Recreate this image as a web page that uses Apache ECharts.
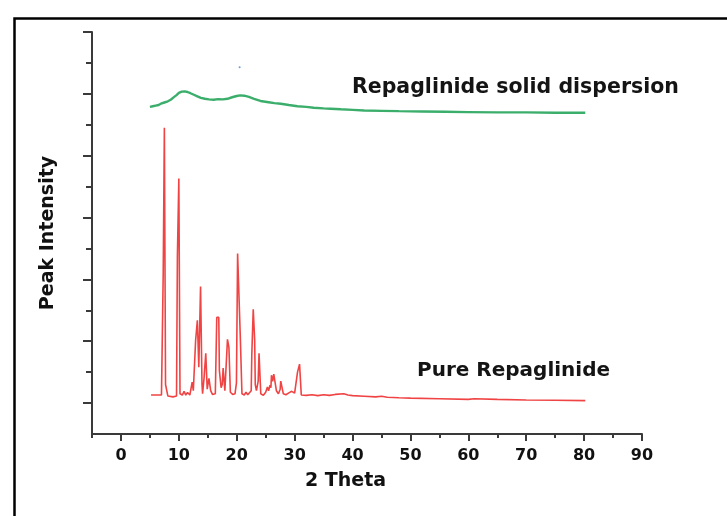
<!DOCTYPE html>
<html lang="en">
<head>
    <meta charset="UTF-8">
    <title>XRD Repaglinide</title>
    <script src="https://cdn.jsdelivr.net/npm/echarts@6/dist/echarts.min.js"></script>
    <style>
        html, body { margin: 0; padding: 0; background: #fff; }
        #main { width: 727px; height: 516px; }
    </style>
</head>
<body>
<div id="main"></div>
<script>
    // 2 theta / intensity pairs
    var pureRepaglinide = [
        [5.2,126],[6.0,126],[7.0,126],[7.25,128],[7.3,519],[7.45,519],[7.5,990],[7.62,990],[7.7,160],[7.9,155],
        [8.1,123],[9.0,120],[9.6,123],[9.75,574],[9.95,574],[10.0,826],[10.1,826],[10.2,130],[10.6,126],[10.9,138],
        [11.2,126],[11.5,134],[11.9,126],[12.3,168],[12.5,140],[12.8,140],[12.9,303],[13.1,303],[13.2,368],[13.35,368],
        [13.45,216],[13.6,216],[13.75,477],[13.9,477],[14.0,160],[14.1,130],[14.35,180],[14.5,180],[14.65,261],[14.8,261],
        [14.9,145],[15.0,150],[15.2,180],[15.35,180],[15.5,140],[15.8,128],[16.3,130],[16.55,377],[16.9,377],[17.0,206],
        [17.15,206],[17.3,150],[17.5,160],[17.65,213],[17.85,213],[17.95,140],[18.2,140],[18.4,306],[18.55,306],[18.65,280],
        [18.8,280],[18.9,135],[19.3,128],[19.7,130],[19.95,165],[20.1,165],[20.15,584],[20.45,584],[20.6,323],[20.75,323],
        [20.9,130],[21.3,126],[21.6,135],[21.9,127],[22.2,132],[22.5,140],[22.6,255],[22.75,255],[22.85,403],[23.0,403],
        [23.1,303],[23.2,160],[23.4,140],[23.7,170],[23.85,261],[24.0,261],[24.15,130],[24.6,125],[25.0,135],[25.3,152],
        [25.5,140],[25.75,158],[25.9,150],[26.0,190],[26.2,170],[26.4,194],[26.55,194],[26.7,190],[26.85,140],[27.2,130],
        [27.5,145],[27.6,171],[27.9,171],[28.05,130],[28.5,127],[29.0,133],[29.5,138],[30.0,132],[30.3,135],[30.5,200],
        [30.7,200],[30.85,226],[31.0,226],[31.15,126],[32,125],[33,127],[34,124],[35,127],[36,125],[37,128],
        [38.5,130],[38.8,136],[39.2,126],[40,124],[42,122],[44,120],[45,122],[46,119],[48,117],[50,116],
        [55,114],[60,112],[61,114],[65,112],[70,110],[75,109],[80.2,108]
    ];
    var solidDispersion = [
        [5.0,1058],[5.5,1060],[6.0,1062],[6.5,1064],[6.9,1068],[7.5,1072],[8.1,1076],[8.6,1081],[9.2,1090],[9.6,1096],
        [10.0,1103],[10.5,1107],[11.0,1108],[11.5,1106],[12.0,1102],[12.6,1097],[13.2,1092],[13.8,1087],[14.5,1084],[15.2,1082],
        [16.0,1081],[16.8,1083],[17.6,1082],[18.4,1084],[19.2,1089],[20.0,1093],[20.6,1095],[21.3,1094],[22.1,1090],[23.0,1084],
        [24.1,1077],[25.5,1073],[26.5,1070],[27.6,1068],[29,1064],[30.5,1060],[32,1058],[33.3,1055],[35,1053],[36.2,1052],
        [38,1050],[40,1048],[42,1046],[45,1045],[48,1044],[52,1043],[56,1042],[60,1041],[65,1040],[70,1040],
        [75,1039],[80.2,1039]
    ];
    var strayDot = [[20.5,1186]];

    var xMajorTicks = [0,10,20,30,40,50,60,70,80,90];
    var xMinorTicks = [-5,5,15,25,35,45,55,65,75,85];
    var yMajorTicks = [100,300,500,700,900,1100,1300];
    var yMinorTicks = [200,400,600,800,1000,1200];

    var axisColor = '#3a3a3a';
    var chart = echarts.init(document.getElementById('main'));

    chart.setOption({
        animation: false,
        backgroundColor: '#fff',
        grid: { left: 92, right: 85, top: 32, bottom: 82 },
        xAxis: [{
            type: 'value', position: 'bottom', min: -5, max: 90, interval: 5,
            name: '2 Theta', nameLocation: 'middle', nameGap: 38,
            nameTextStyle: {
                fontFamily: 'DejaVu Sans', fontWeight: 'bold', fontSize: 19, color: '#111',
                padding: [0, 43, 0, 0], verticalAlign: 'top'
            },
            axisLine: { onZero: false, lineStyle: { color: axisColor, width: 2 } },
            axisTick: { customValues: xMajorTicks, length: 7, lineStyle: { color: axisColor, width: 2 } },
            axisLabel: {
                customValues: xMajorTicks, margin: 14,
                fontFamily: 'DejaVu Sans', fontWeight: 'bold', fontSize: 16, color: '#111'
            },
            splitLine: { show: false }
        }, {
            type: 'value', position: 'bottom', min: -5, max: 90, interval: 5,
            axisLine: { show: false, onZero: false },
            axisTick: { customValues: xMinorTicks, length: 4, lineStyle: { color: axisColor, width: 2 } },
            axisLabel: { show: false },
            splitLine: { show: false }
        }],
        yAxis: [{
            type: 'value', position: 'left', min: 0, max: 1300, interval: 100,
            name: 'Peak Intensity', nameLocation: 'middle', nameGap: 34,
            nameTextStyle: { fontFamily: 'DejaVu Sans', fontWeight: 'bold', fontSize: 19, color: '#111' },
            axisLine: { show: true, onZero: false, lineStyle: { color: axisColor, width: 2 } },
            axisTick: { customValues: yMajorTicks, length: 9, lineStyle: { color: axisColor, width: 2 } },
            axisLabel: { show: false },
            splitLine: { show: false }
        }, {
            type: 'value', position: 'left', min: 0, max: 1300, interval: 100,
            axisLine: { show: false, onZero: false },
            axisTick: { show: true, customValues: yMinorTicks, length: 6, lineStyle: { color: axisColor, width: 2 } },
            axisLabel: { show: false },
            splitLine: { show: false }
        }],
        series: [{
            name: 'Pure Repaglinide', type: 'line', data: pureRepaglinide,
            showSymbol: false, lineStyle: { color: '#f04444', width: 1.6 }
        }, {
            name: 'Repaglinide solid dispersion', type: 'line', data: solidDispersion,
            showSymbol: false, lineStyle: { color: '#3cae6c', width: 2.4 }
        }, {
            type: 'scatter', data: strayDot, symbolSize: 2,
            itemStyle: { color: '#4a7fd8' }
        }],
        graphic: [{
            type: 'rect', left: 12, top: 16, silent: true,
            shape: { width: 760, height: 560 },
            style: { fill: 'none', stroke: '#000', lineWidth: 2.5 }
        }, {
            type: 'text', left: 352, top: 77,
            style: { text: 'Repaglinide solid dispersion', font: 'bold 20.5px "DejaVu Sans"', fill: '#141414' }
        }, {
            type: 'text', left: 417, top: 361,
            style: { text: 'Pure Repaglinide', font: 'bold 20px "DejaVu Sans"', fill: '#141414' }
        }]
    });
</script>
</body>
</html>
